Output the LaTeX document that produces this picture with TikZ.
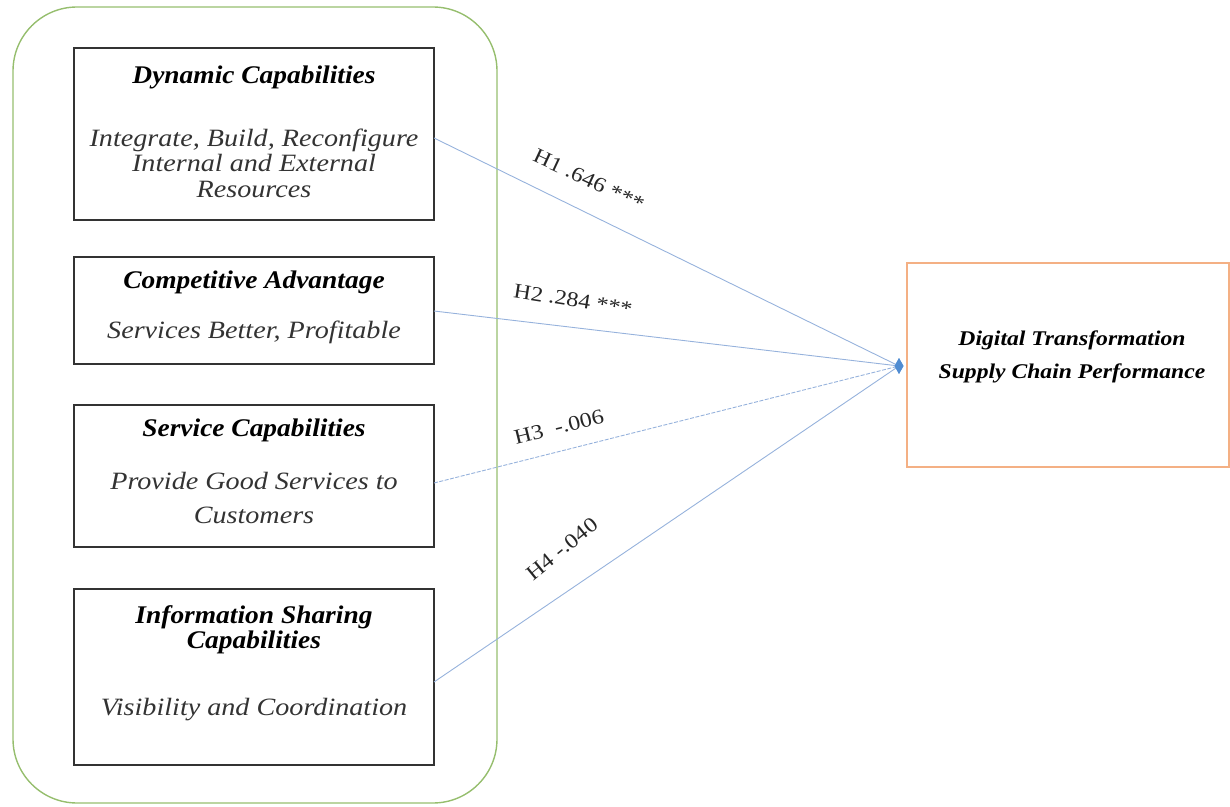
\documentclass[tikz,border=0pt]{standalone}
\usepackage{fontspec}
\setmainfont{Liberation Serif}
\newfontfamily\wide{Liberation Serif}[FakeStretch=1.13]
\newfontfamily\widettl{Liberation Serif}[FakeStretch=1.08]
\newfontfamily\widelab{Liberation Serif}[FakeStretch=1.15]
\usetikzlibrary{shapes.geometric}
\definecolor{grn}{RGB}{150,190,110}
\definecolor{org}{RGB}{244,176,132}
\definecolor{lnblue}{RGB}{150,178,220}
\definecolor{tipblue}{RGB}{80,140,210}
\tikzset{
  capbox/.style={draw=black!80,line width=1.6bp},
  ttl/.style={font=\widettl\fontsize{25.5}{25}\selectfont\bfseries\itshape,align=center},
  sub/.style={font=\wide\fontsize{25}{25.5}\selectfont\itshape,align=center,text=black!80},
  link/.style={draw=lnblue,line width=0.9bp},
  hlab/.style={font=\widelab\fontsize{21}{22}\selectfont,text=black!85,inner sep=0pt},
}
\begin{document}
\begin{tikzpicture}[x=1bp,y=-1bp]
\useasboundingbox (0,0) rectangle (1230,807);
% outer green group
\draw[grn,line width=1.4bp,rounded corners=64bp] (13,7) rectangle (497,803);
% left boxes
\draw[capbox] (74,48) rectangle (434,220);
\draw[capbox] (74,257) rectangle (434,364);
\draw[capbox] (74,405) rectangle (434,547);
\draw[capbox] (74,589) rectangle (434,765);
\node[ttl] (t1) at (254,77) {Dynamic Capabilities};
\node[sub] (s1) at (254,163) {Integrate, Build, Reconfigure\\Internal and External\\Resources};
\node[ttl] (t2) at (254,282) {Competitive Advantage};
\node[sub] (s2) at (254,332) {Services Better, Profitable};
\node[ttl] (t3) at (254,430) {Service Capabilities};
\node[sub,font=\wide\fontsize{25}{34}\selectfont\itshape] (s3) at (254,498) {Provide Good Services to\\Customers};
\node[ttl] (t4) at (254,630) {Information Sharing\\Capabilities};
\node[sub] (s4) at (254,710) {Visibility and Coordination};
% anchors on the box edges
\coordinate (a1) at (434,138);
\coordinate (a2) at (434,311);
\coordinate (a3) at (434,483);
\coordinate (a4) at (434,682);
% right box
\draw[org,line width=1.6bp] (907,263) rectangle (1229,467);
\node[ttl,font=\wide\fontsize{21}{33}\selectfont\bfseries\itshape] (dt) at (1072,357) {Digital Transformation\\Supply Chain Performance};
% target tip
\node[diamond,fill=tipblue,inner sep=0pt,minimum width=9bp,minimum height=16bp] (tip) at (899,366) {};
\draw[link] (a1) -- (tip.center);
\draw[link] (a2) -- (tip.center);
\draw[link,dash pattern=on 4bp off 1.5bp] (a3) -- (tip.center);
\draw[link] (a4) -- (tip.center);
\node[diamond,fill=tipblue,inner sep=0pt,minimum width=9bp,minimum height=16bp] at (tip) {};
% labels
\node[hlab,rotate=-25] (l1) at (589,180) {H1 .646 ***};
\node[hlab,rotate=-9] (l2) at (573,300) {H2 .284 ***};
\node[hlab,rotate=14] (l3) at (559,427) {H3 \ -.006};
\node[hlab,rotate=39] (l4) at (562,549) {H4 -.040};
\end{tikzpicture}
\end{document}
